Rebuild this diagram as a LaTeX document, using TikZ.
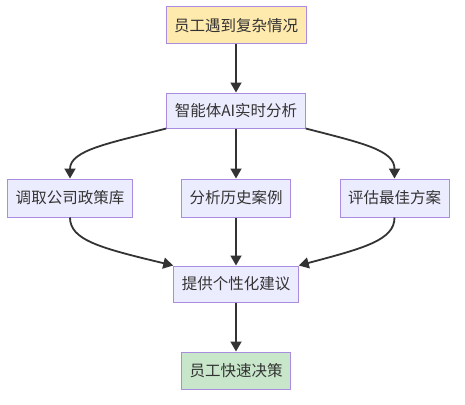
\documentclass[tikz,border=0pt]{standalone}
\usepackage{fontspec}
\setmainfont{Noto Sans CJK SC}
\usetikzlibrary{positioning, arrows.meta}
\definecolor{boxline}{HTML}{A98BE0}
\definecolor{boxfill}{HTML}{ECECFF}
\definecolor{startfill}{HTML}{FFEAAE}
\definecolor{endfill}{HTML}{C8E6C9}
\definecolor{ink}{HTML}{333333}

\begin{document}
\begin{tikzpicture}[x=1pt, y=-1pt,
		flowbox/.style={draw=boxline, line width=1pt, fill=boxfill, text=ink,
			inner xsep=8pt, minimum height=37pt, font=\fontsize{15.5}{18}\selectfont},
		flowarrow/.style={draw=ink, line width=1.8pt, -{Triangle[length=10pt, width=11pt]}}]
		\useasboundingbox (0, 0) rectangle (465, 404);
		% Boxes
		\node[flowbox, fill=startfill] (meet) at (236, 25.5) {员工遇到复杂情况};
		\node[flowbox, minimum height=35pt] (agent) at (236, 110.5) {智能体AI实时分析};
		\node[flowbox, minimum height=38pt] (policy) at (70, 198) {调取公司政策库};
		\node[flowbox, minimum height=38pt] (cases) at (236, 198) {分析历史案例};
		\node[flowbox, minimum height=38pt] (plan) at (394.5, 198) {评估最佳方案};
		\node[flowbox, minimum height=36pt] (advice) at (236, 284) {提供个性化建议};
		\node[flowbox, fill=endfill] (decide) at (236, 370.5) {员工快速决策};
		
		% Arrows
		\draw[flowarrow] (meet) -- (agent);
		\draw[flowarrow] (agent.south west) .. controls (110, 143) and (70, 150) .. (policy.north);
		\draw[flowarrow] (agent) -- (cases);
		\draw[flowarrow] (agent.south east) .. controls (362, 143) and (394.5, 150) .. (plan.north);
		\draw[flowarrow] (policy.south) .. controls (70, 240) and (100, 248) .. (advice.north west);
		\draw[flowarrow] (cases) -- (advice);
		\draw[flowarrow] (plan.south) .. controls (394.5, 240) and (364.5, 248) .. (advice.north east);
		\draw[flowarrow] (advice) -- (decide);
	\end{tikzpicture}
\end{document}
